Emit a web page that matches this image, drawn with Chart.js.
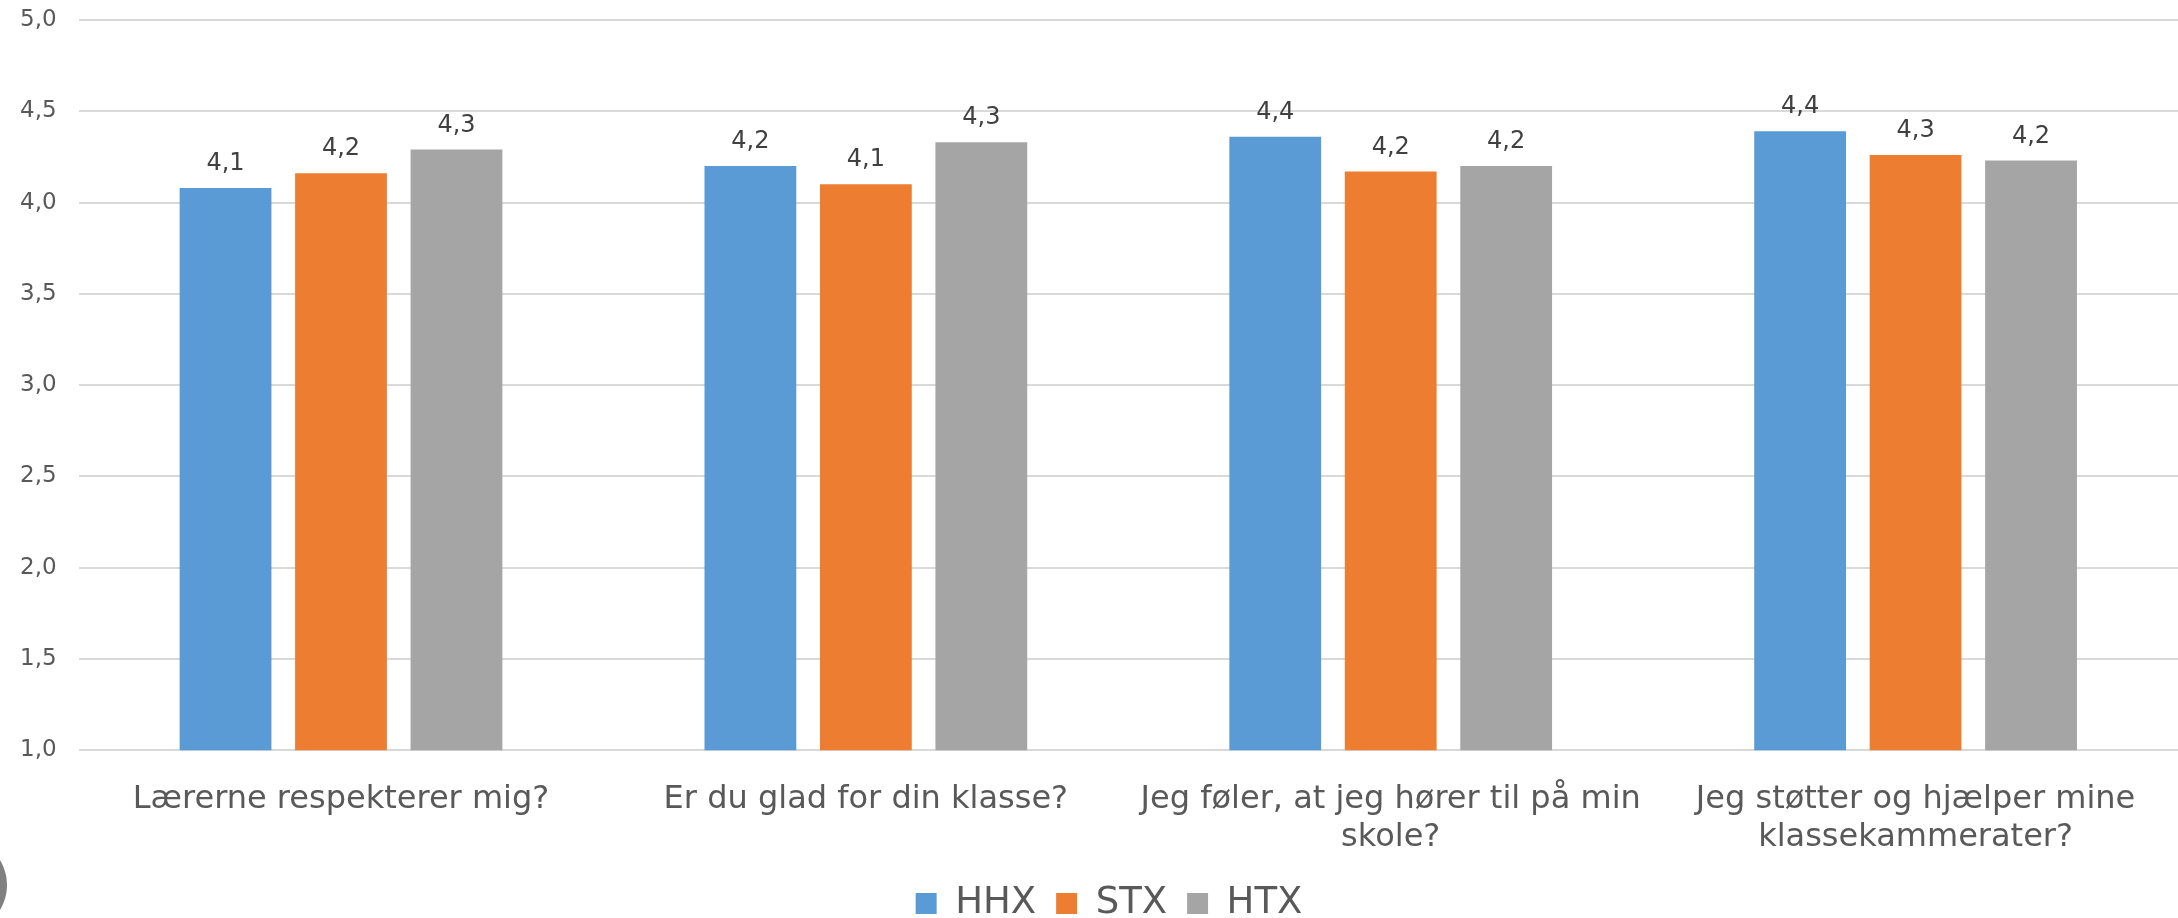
<!DOCTYPE html>
<html>
<head>
<meta charset="utf-8">
<script src="https://cdn.jsdelivr.net/npm/chart.js@4/dist/chart.umd.min.js"></script>
<style>
  body { margin: 0; background: #fff; }
  #wrap { width: 2178px; height: 918px; }
</style>
</head>
<body>
<div id="wrap"><canvas id="surveyChart" width="2178" height="918"></canvas></div>
<script>
// Survey answers, mean score per school type
const questions = [
  'Lærerne respekterer mig?',
  'Er du glad for din klasse?',
  ['Jeg føler, at jeg hører til på min', 'skole?'],
  ['Jeg støtter og hjælper mine', 'klassekammerater?']
];
const hhx = [4.08, 4.20, 4.36, 4.39];
const stx = [4.16, 4.10, 4.17, 4.26];
const htx = [4.29, 4.33, 4.20, 4.23];
const yTicks = [1.0, 1.5, 2.0, 2.5, 3.0, 3.5, 4.0, 4.5, 5.0];

const fmt = v => v.toFixed(1).replace('.', ',');

// simple value labels above each bar
const barLabels = {
  id: 'barLabels',
  afterDatasetsDraw(chart) {
    const c = chart.ctx;
    c.save();
    c.font = '24px "DejaVu Sans"';
    c.fillStyle = '#404040';
    c.textAlign = 'center';
    c.textBaseline = 'alphabetic';
    chart.data.datasets.forEach((ds, i) => {
      chart.getDatasetMeta(i).data.forEach((bar, j) => {
        c.fillText(fmt(ds.data[j]), bar.x, bar.y - 18);
      });
    });
    c.restore();
  }
};

// nudge legend a bit right, like the original
const legendShift = {
  id: 'legendShift',
  afterLayout(chart) {
    if (chart.legend) {
      chart.legend.left += 21;
      chart.legend.right += 21;
    }
  }
};

// grey round mark cut off at the lower left edge of the original image
const edgeMark = {
  id: 'edgeMark',
  afterDraw(chart) {
    const c = chart.ctx;
    c.save();
    c.fillStyle = '#808080';
    c.beginPath();
    c.arc(-41, 885, 48, 0, Math.PI * 2);
    c.fill();
    c.restore();
  }
};

const ctx = document.getElementById('surveyChart').getContext('2d');
new Chart(ctx, {
  type: 'bar',
  data: {
    labels: questions,
    datasets: [
      { label: 'HHX', data: hhx, backgroundColor: '#5b9bd5' },
      { label: 'STX', data: stx, backgroundColor: '#ed7d31' },
      { label: 'HTX', data: htx, backgroundColor: '#a5a5a5' }
    ]
  },
  options: {
    responsive: false,
    devicePixelRatio: 1,
    animation: false,
    layout: { padding: { top: 20, right: 0, left: -2, bottom: -14 } },
    datasets: { bar: { categoryPercentage: 0.66, barPercentage: 0.795 } },
    plugins: {
      tooltip: { enabled: false },
      legend: {
        position: 'bottom',
        labels: {
          font: { family: 'DejaVu Sans', size: 37 },
          color: '#595959',
          boxWidth: 21,
          boxHeight: 21,
          padding: 20
        }
      }
    },
    scales: {
      x: {
        grid: { display: false },
        border: { display: false },
        afterFit: axis => { axis.height -= 14; },
        ticks: {
          font: { family: 'DejaVu Sans', size: 32 },
          color: '#595959',
          padding: 22,
          maxRotation: 0,
          autoSkip: false
        }
      },
      y: {
        min: 1,
        max: 5,
        afterBuildTicks: axis => { axis.ticks = yTicks.map(v => ({ value: v })); },
        afterFit: axis => { axis.paddingTop = 0; },
        grid: { color: '#d9d9d9', lineWidth: 2, drawTicks: false },
        border: { display: false },
        ticks: {
          font: { family: 'DejaVu Sans', size: 23 },
          color: '#595959',
          padding: 22,
          callback: v => fmt(v)
        }
      }
    }
  },
  plugins: [barLabels, legendShift, edgeMark]
});
</script>
</body>
</html>
